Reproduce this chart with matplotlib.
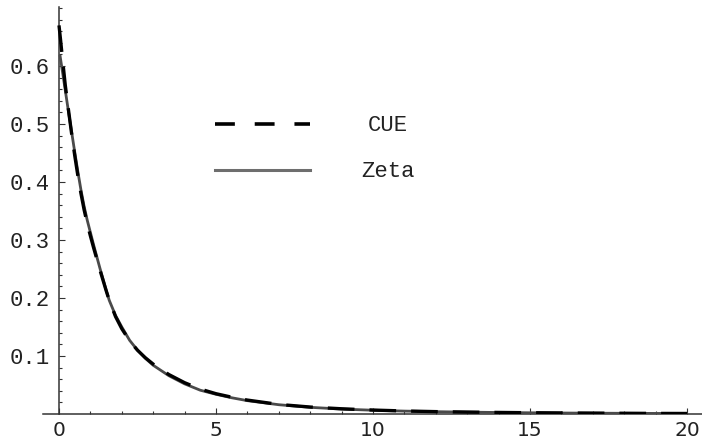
import matplotlib
matplotlib.use("Agg")
import matplotlib.pyplot as plt
from matplotlib.lines import Line2D

# ---- data ----
cue_x = [0, 0.05, 0.1, 0.2, 0.3, 0.4, 0.5, 0.6, 0.7, 0.8, 0.9, 1.0, 1.1, 1.2, 1.3, 1.4,
         1.5, 1.6, 1.8, 2.0, 2.25, 2.5, 2.75, 3.0, 3.5, 4.0, 4.5, 5.0, 5.5, 6, 7, 8, 9,
         10, 11, 12, 13, 14, 15, 16, 17, 18, 19, 20]
cue_y = [0.670, 0.645, 0.618, 0.567, 0.525, 0.484, 0.446, 0.411, 0.380, 0.352, 0.328,
         0.307, 0.287, 0.268, 0.249, 0.231, 0.213, 0.196, 0.168, 0.147, 0.126, 0.110,
         0.097, 0.086, 0.068, 0.054, 0.043, 0.035, 0.029, 0.024, 0.0165, 0.012, 0.009,
         0.0068, 0.0052, 0.0041, 0.0033, 0.0027, 0.0022, 0.0018, 0.0015, 0.0012, 0.0010,
         0.0009]

zeta_x = [0.03, 0.1, 0.2, 0.3, 0.4, 0.5, 0.6, 0.7, 0.8, 0.9, 1.0, 1.1, 1.2, 1.3, 1.4,
          1.5, 1.6, 1.8, 2.0, 2.25, 2.5, 2.75, 3.0, 3.5, 4.0, 4.5, 5.0, 5.5, 6, 7, 8, 9,
          10, 11, 12, 13, 14, 15, 16, 17, 18, 19, 20]
zeta_y = [0.619, 0.594, 0.558, 0.522, 0.487, 0.452, 0.418, 0.386, 0.358, 0.334, 0.313,
          0.292, 0.272, 0.252, 0.233, 0.214, 0.196, 0.170, 0.150, 0.127, 0.110, 0.096,
          0.084, 0.066, 0.052, 0.041, 0.034, 0.028, 0.023, 0.016, 0.0115, 0.0085,
          0.0065, 0.0050, 0.0040, 0.0032, 0.0026, 0.0021, 0.0017, 0.0014, 0.0012,
          0.0010, 0.0009]

x_ticks = [0, 5, 10, 15, 20]
y_ticks = [0.1, 0.2, 0.3, 0.4, 0.5, 0.6]
y_tick_labels = ["0.1", "0.2", "0.3", "0.4", "0.5", "0.6"]
series_names = ["CUE", "Zeta"]

# ---- figure ----
W, H = 702, 440
fig = plt.figure(figsize=(W / 100, H / 100), dpi=100)
left_px, right_px, bottom_px, top_px = 43, 702, 414, 7
ax = fig.add_axes([left_px / W, (H - bottom_px) / H,
                   (right_px - left_px) / W, (bottom_px - top_px) / H])

px_per_x = 31.4
x0_px = 59
ax.set_xlim((left_px - x0_px) / px_per_x, (right_px - x0_px) / px_per_x)
ax.set_ylim(0, (bottom_px - top_px) / 580.0)

axis_col = "#333333"
ax.spines["left"].set_position(("data", 0))
ax.spines["bottom"].set_position(("data", 0))
ax.spines["right"].set_visible(False)
ax.spines["top"].set_visible(False)
for s in ("left", "bottom"):
    ax.spines[s].set_color(axis_col)
    ax.spines[s].set_linewidth(1.1)

ax.set_xticks(x_ticks)
ax.set_xticklabels([str(t) for t in x_ticks], fontfamily="DejaVu Sans", fontsize=14.5)
ax.set_xticks(range(0, 21), minor=True)
ax.set_yticks(y_ticks)
ax.set_yticklabels(y_tick_labels, fontfamily="Liberation Mono", fontsize=16)
ax.set_yticks([i * 0.02 for i in range(1, 36)], minor=True)

ax.tick_params(axis="both", which="major", direction="in", length=4.5, width=0.8,
               color=axis_col, labelcolor="#222222")
ax.tick_params(axis="both", which="minor", direction="in", length=2.5, width=0.8,
               color=axis_col)
ax.tick_params(axis="x", which="major", pad=5)
ax.tick_params(axis="y", which="major", pad=7)

# curves
ax.plot(zeta_x, zeta_y, color="#4a4a4a", lw=2.0, solid_capstyle="butt", zorder=3)
ax.plot(cue_x, cue_y, color="black", lw=2.4, linestyle=(0, (8.0, 4.5)), zorder=4)

# legend (drawn manually like the Mathematica legend)
def fx(p):
    return p / W
def fy(p):
    return 1 - p / H

fig.add_artist(Line2D([fx(215), fx(310)], [fy(124), fy(124)], color="black", lw=2.6,
                      linestyle=(0, (5.5, 5.5)), transform=fig.transFigure))
fig.add_artist(Line2D([fx(215), fx(310)], [fy(170), fy(170)], color="#6e6e6e", lw=2.2,
                      transform=fig.transFigure))
fig.text(fx(388), fy(125), series_names[0], fontfamily="Liberation Mono", fontsize=16,
         ha="center", va="center", color="#222222")
fig.text(fx(388), fy(171), series_names[1], fontfamily="Liberation Mono", fontsize=16,
         ha="center", va="center", color="#222222")

fig.savefig("out.png", dpi=100)
